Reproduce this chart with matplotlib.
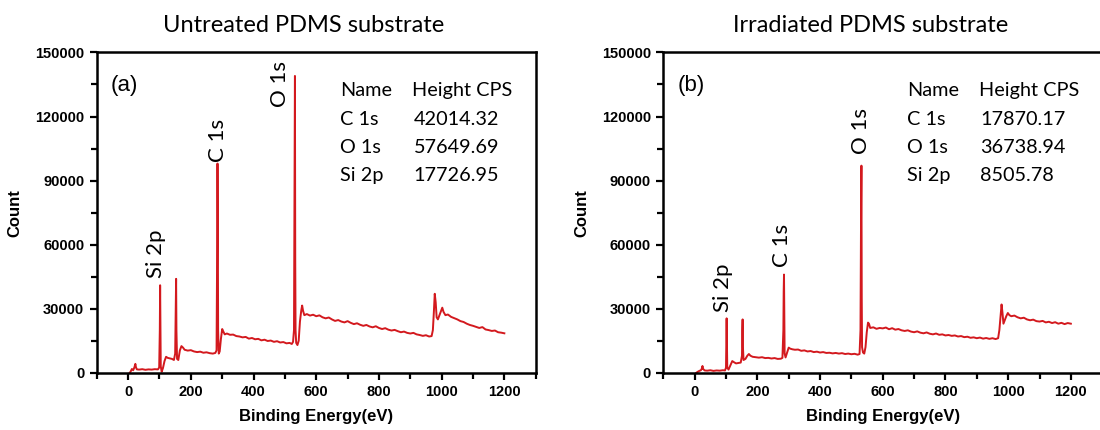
import numpy as np
import matplotlib
matplotlib.use('Agg')
import matplotlib.pyplot as plt
from matplotlib.ticker import MultipleLocator

# survey spectra: (binding energy eV, count)
spec_a = [(5, 0), (8, 600), (12, 1800), (16, 1200), (20, 2600), (23, 4200), (25, 2500),
          (28, 1600), (35, 1500), (45, 1700), (55, 1400), (65, 1600), (75, 1500), (85, 1700),
          (95, 1600), (99, 2500), (101, 20000), (102, 41000), (103, 18000), (104, 3000),
          (107, 500), (111, 2200), (116, 5500), (121, 7500), (126, 7000), (132, 6800),
          (140, 6500), (146, 6000), (150, 9000), (152, 30000), (153, 44000), (154, 20000),
          (156, 6500), (160, 6000), (165, 10500), (170, 12500), (175, 11800), (180, 10800),
          (190, 10400), (200, 10600), (210, 10000), (220, 9700), (230, 9900), (240, 9400),
          (250, 9600), (260, 9200), (270, 9000), (278, 9300), (282, 10500), (284, 60000),
          (285, 98000), (286, 70000), (287, 20000), (289, 9000), (292, 10000), (296, 16000),
          (300, 20500), (303, 19500), (308, 18000), (315, 18400), (325, 17800), (335, 17900),
          (345, 17200), (355, 17000), (365, 16600), (375, 16800), (385, 16000), (395, 16300),
          (405, 15700), (415, 15900), (425, 15200), (435, 15500), (445, 14900), (455, 15100),
          (465, 14500), (475, 14800), (485, 14200), (495, 14400), (505, 13800), (515, 14000),
          (522, 13500), (526, 14500), (529, 20000), (531, 100000), (532, 139000), (533, 52000),
          (534, 20000), (536, 14000), (540, 13000), (544, 15000), (548, 24000), (552, 29000),
          (555, 31500), (558, 29000), (562, 27000), (570, 27500), (580, 26800), (590, 27200),
          (600, 26500), (610, 26900), (620, 26000), (630, 25500), (640, 25900), (650, 25000),
          (660, 24300), (670, 24700), (680, 24000), (690, 23600), (700, 24200), (710, 23400),
          (720, 22800), (730, 23200), (740, 22500), (750, 22000), (760, 22400), (770, 21700),
          (780, 21300), (790, 21800), (800, 21000), (810, 20500), (820, 20900), (830, 20200),
          (840, 19800), (850, 20100), (860, 19500), (870, 19000), (880, 19300), (890, 18700),
          (900, 18400), (910, 18700), (920, 18000), (930, 17700), (940, 17300), (950, 17600),
          (960, 17000), (968, 17200), (972, 20000), (975, 28000), (978, 37000), (981, 33000),
          (984, 26000), (988, 25000), (993, 27000), (998, 29000), (1002, 30500), (1006, 28500),
          (1012, 27000), (1020, 27300), (1030, 26200), (1040, 25600), (1050, 25000),
          (1060, 24200), (1070, 23800), (1080, 23000), (1090, 22400), (1100, 22000),
          (1110, 21500), (1120, 21000), (1130, 21400), (1140, 20300), (1150, 20000),
          (1160, 19600), (1170, 19800), (1180, 19000), (1190, 18800), (1200, 18500)]

spec_b = [(5, 0), (10, 500), (15, 900), (20, 1200), (23, 2000), (25, 3200), (27, 1800),
          (32, 1100), (40, 1000), (50, 1200), (60, 900), (70, 1100), (80, 1000), (90, 1200),
          (97, 1100), (100, 2500), (101, 15000), (102, 25500), (103, 12000), (104, 2500),
          (108, 1500), (114, 3500), (120, 5500), (125, 5000), (132, 4400), (140, 4600),
          (147, 4800), (151, 8000), (152, 20000), (153, 25000), (154, 12000), (156, 6000),
          (162, 6500), (168, 8000), (173, 8800), (178, 8000), (185, 7500), (195, 7300),
          (205, 7100), (215, 7300), (225, 6900), (235, 7000), (245, 6700), (255, 6900),
          (265, 6500), (275, 6600), (280, 7000), (283, 20000), (284, 38000), (285, 46000),
          (286, 25000), (287, 9000), (290, 7200), (295, 9500), (300, 11800), (305, 11300),
          (312, 11000), (320, 10800), (330, 10900), (340, 10300), (350, 10500), (360, 10000),
          (370, 10200), (380, 9700), (390, 9900), (400, 9500), (410, 9700), (420, 9300),
          (430, 9400), (440, 9100), (450, 9300), (460, 9000), (470, 9200), (480, 8800),
          (490, 9000), (500, 8700), (510, 8900), (520, 8500), (526, 8800), (529, 20000),
          (531, 80000), (532, 97000), (533, 35000), (534, 12000), (537, 9500), (541, 9000),
          (545, 12000), (549, 19000), (553, 23500), (556, 23000), (560, 21000), (570, 21300),
          (580, 20600), (590, 21000), (600, 20800), (610, 21200), (620, 20400), (630, 20900),
          (640, 20200), (650, 20500), (660, 19900), (670, 19600), (680, 19900), (690, 19300),
          (700, 19000), (710, 19400), (720, 18800), (730, 18500), (740, 18900), (750, 18300),
          (760, 18000), (770, 18400), (780, 17800), (790, 18000), (800, 17500), (810, 17700),
          (820, 17300), (830, 17500), (840, 17000), (850, 17200), (860, 16700), (870, 16900),
          (880, 16400), (890, 16600), (900, 16200), (910, 16500), (920, 16000), (930, 16300),
          (940, 15900), (950, 16200), (960, 15800), (968, 16200), (972, 20000), (976, 27000),
          (979, 32000), (982, 28000), (985, 23000), (989, 24500), (994, 26500), (999, 28000),
          (1004, 27000), (1010, 26500), (1020, 26800), (1030, 26000), (1040, 25500),
          (1050, 25800), (1060, 25000), (1070, 24600), (1080, 24900), (1090, 24200),
          (1100, 24000), (1110, 24300), (1120, 23600), (1130, 23900), (1140, 23300),
          (1150, 23700), (1160, 23000), (1170, 23400), (1180, 22800), (1190, 23300), (1200, 23000)]

titles = ['Untreated PDMS substrate', 'Irradiated PDMS substrate']
panel_tags = ['(a)', '(b)']
peak_names = ['C 1s', 'O 1s', 'Si 2p']
heights_a = ['42014.32', '57649.69', '17726.95']
heights_b = ['17870.17', '36738.94', '8505.78']

# peak labels: (text, energy, count at bottom of label)
labels_a = [('O 1s', 485, 124500), ('C 1s', 287, 98500), ('Si 2p', 89, 44500)]
labels_b = [('O 1s', 530, 102500), ('C 1s', 280, 49500), ('Si 2p', 91, 28500)]

red = '#d3191e'
txt_font = 'Lato'

fig = plt.figure(figsize=(11, 4.3), dpi=100)
axes = [fig.add_axes([0.088, 0.133, 0.399, 0.745]),
        fig.add_axes([0.603, 0.133, 0.399, 0.745])]

panels = [(spec_a, heights_a, labels_a), (spec_b, heights_b, labels_b)]
for i, ax in enumerate(axes):
    spec, heights, labels = panels[i]
    e = np.array([p[0] for p in spec])
    c = np.array([p[1] for p in spec])
    ax.plot(e, c, color=red, lw=1.4)

    ax.set_xlim(-100, 1300)
    ax.set_ylim(0, 150000)
    ax.xaxis.set_major_locator(MultipleLocator(200))
    ax.xaxis.set_minor_locator(MultipleLocator(100))
    ax.yaxis.set_major_locator(MultipleLocator(30000))
    ax.yaxis.set_minor_locator(MultipleLocator(15000))
    ax.tick_params(which='both', direction='out', width=1.6, top=False, right=False)
    ax.tick_params(which='major', length=5, labelsize=10.5, pad=4)
    ax.tick_params(which='minor', length=4)
    for lab in ax.get_xticklabels() + ax.get_yticklabels():
        lab.set_fontweight('bold')
        lab.set_family('Liberation Sans')
    for sp in ax.spines.values():
        sp.set_linewidth(1.8)

    ax.set_xlabel('Binding Energy(eV)', fontsize=12, fontweight='bold', family='Liberation Sans', labelpad=7)
    ax.set_ylabel('Count', fontsize=12, fontweight='bold', family='Liberation Sans', labelpad=9)
    ax.set_title(titles[i], fontsize=17, family=txt_font, pad=15, x=0.472)

    ax.text(-55, 134500, panel_tags[i], fontsize=16, family='Liberation Sans', ha='left', va='center')

    # peak height table
    ax.text(677, 132000, 'Name', fontsize=14.3, family=txt_font, va='center')
    ax.text(906, 132000, 'Height CPS', fontsize=14.3, family=txt_font, va='center')
    for j, name in enumerate(peak_names):
        y = 118500 - j * 13000
        ax.text(677, y, name, fontsize=14.3, family=txt_font, va='center')
        ax.text(910, y, heights[j], fontsize=14.3, family=txt_font, va='center')

    for t, x, y in labels:
        ax.text(x, y, t, rotation=90, fontsize=16, family=txt_font, ha='center', va='bottom')

fig.savefig('out.png', dpi=100)
